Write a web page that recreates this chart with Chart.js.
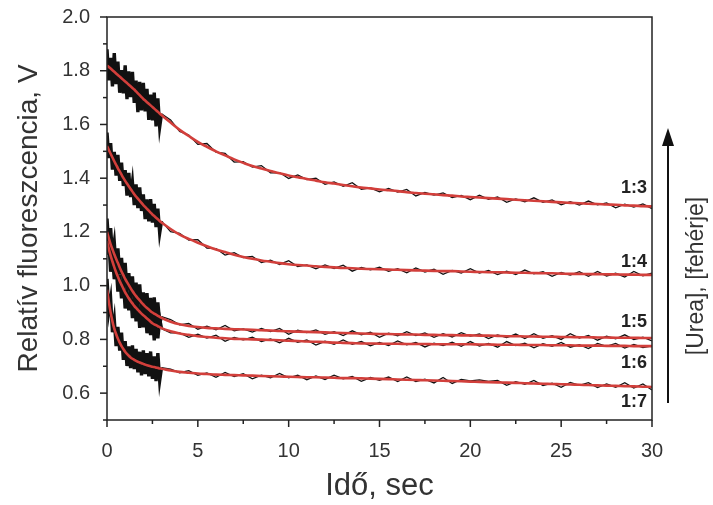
<!DOCTYPE html>
<html>
<head>
<meta charset="utf-8">
<script src="https://cdn.jsdelivr.net/npm/chart.js@4.4.1/dist/chart.umd.min.js"></script>
<style>
html,body{margin:0;padding:0;background:#fff;}
#wrap{width:713px;height:505px;}
</style>
</head>
<body>
<div id="wrap"><canvas id="c" width="713" height="505"></canvas></div>
<script>
// ---- time bases (s) ----
const denseTimes = [0,0.1,0.2,0.3,0.4,0.5,0.6,0.7,0.8,0.9,1.0,1.1,1.2,1.3,1.4,1.5,1.6,1.7,1.8,1.9,2.0,2.1,2.2,2.3,2.4,2.5,2.6,2.7,2.8,2.9,3.0];
const sparseTimes = [3.5,4,4.5,5,5.5,6,6.5,7,7.5,8,8.5,9,9.5,10,10.5,11,11.5,12,12.5,13,13.5,14,14.5,15,15.5,16,16.5,17,17.5,18,18.5,19,19.5,20,20.5,21,21.5,22,22.5,23,23.5,24,24.5,25,25.5,26,26.5,27,27.5,28,28.5,29,29.5,30];

// ---- series names ----
const seriesNames = ['1:3','1:4','1:5','1:6','1:7'];

// ---- measured traces (V) ----
const meas13 = [1.88,1.764,1.848,1.742,1.866,1.75,1.834,1.718,1.802,1.716,1.82,1.694,1.798,1.702,1.796,1.68,1.763,1.646,1.759,1.652,1.755,1.649,1.733,1.617,1.711,1.615,1.719,1.593,1.697,1.591,1.64,
 1.617,1.574,1.561,1.526,1.529,1.497,1.492,1.46,1.462,1.441,1.447,1.42,1.421,1.399,1.412,1.395,1.40,1.377,1.386,1.37,1.383,1.359,1.364,1.349,1.362,1.348,1.358,1.334,1.347,1.337,1.345,1.328,1.336,1.32,1.337,1.321,1.33,1.31,1.323,1.312,1.327,1.31,1.319,1.301,1.313,1.30,1.315,1.301,1.308,1.29,1.303,1.293,1.304,1.287];
const meas14 = [1.57,1.475,1.531,1.432,1.498,1.41,1.487,1.39,1.458,1.371,1.43,1.335,1.42,1.33,1.385,1.30,1.377,1.289,1.366,1.278,1.34,1.248,1.321,1.239,1.322,1.235,1.304,1.218,1.287,1.196,1.24,
 1.201,1.195,1.17,1.171,1.14,1.138,1.114,1.123,1.105,1.109,1.086,1.095,1.079,1.093,1.071,1.077,1.063,1.077,1.064,1.076,1.054,1.068,1.059,1.069,1.053,1.063,1.048,1.066,1.051,1.061,1.042,1.057,1.047,1.063,1.047,1.057,1.041,1.054,1.041,1.058,1.044,1.052,1.035,1.049,1.039,1.052,1.035,1.053,1.036,1.046,1.032,1.053,1.037,1.047];
const meas15 = [1.25,1.146,1.214,1.115,1.162,1.065,1.139,1.043,1.103,1.009,1.085,0.983,1.047,0.966,1.035,0.935,1.011,0.933,1.005,0.907,0.975,0.893,0.972,0.886,0.955,0.865,0.956,0.862,0.938,0.859,0.885,
 0.874,0.854,0.859,0.838,0.849,0.836,0.852,0.832,0.839,0.827,0.841,0.829,0.841,0.819,0.834,0.825,0.835,0.819,0.829,0.814,0.832,0.817,0.827,0.808,0.823,0.813,0.829,0.814,0.824,0.808,0.821,0.809,0.825,0.812,0.82,0.803,0.817,0.807,0.82,0.803,0.821,0.804,0.814,0.80,0.821,0.805,0.815,0.797,0.812,0.802,0.817,0.799,0.808,0.794];
const meas16 = [1.115,1.167,1.052,1.11,1.024,1.08,0.978,1.042,0.953,1.019,0.915,0.984,0.908,0.973,0.879,0.95,0.867,0.94,0.843,0.916,0.845,0.914,0.823,0.897,0.816,0.89,0.796,0.873,0.804,0.876,0.84,
 0.824,0.824,0.808,0.819,0.805,0.816,0.793,0.807,0.798,0.808,0.792,0.802,0.787,0.804,0.789,0.798,0.779,0.793,0.782,0.798,0.782,0.792,0.776,0.789,0.777,0.794,0.78,0.789,0.772,0.786,0.777,0.79,0.774,0.792,0.775,0.785,0.771,0.792,0.777,0.786,0.769,0.784,0.774,0.789,0.771,0.78,0.766,0.785,0.774,0.785,0.768,0.781,0.77,0.776];
const meas17 = [1.025,0.905,0.95,0.827,0.875,0.775,0.847,0.758,0.825,0.724,0.794,0.701,0.774,0.693,0.778,0.689,0.765,0.677,0.754,0.666,0.759,0.671,0.749,0.662,0.755,0.653,0.737,0.645,0.749,0.647,0.695,
 0.689,0.676,0.684,0.666,0.675,0.659,0.677,0.662,0.672,0.653,0.667,0.657,0.673,0.657,0.667,0.65,0.664,0.651,0.667,0.653,0.662,0.644,0.658,0.648,0.66,0.643,0.66,0.643,0.652,0.638,0.658,0.636,0.651,0.646,0.649,0.644,0.647,0.629,0.643,0.633,0.647,0.628,0.637,0.622,0.64,0.629,0.639,0.621,0.634,0.622,0.639,0.619,0.634,0.612];

// ---- fitted curves (V) ----
const fit13 = [1.82,1.814,1.808,1.802,1.796,1.79,1.784,1.778,1.772,1.766,1.76,1.754,1.748,1.742,1.736,1.73,1.723,1.716,1.709,1.702,1.695,1.689,1.683,1.677,1.671,1.665,1.659,1.653,1.647,1.641,1.635,
 1.607,1.58,1.557,1.535,1.517,1.50,1.485,1.47,1.457,1.445,1.436,1.427,1.418,1.41,1.404,1.397,1.391,1.385,1.38,1.375,1.37,1.365,1.362,1.358,1.355,1.352,1.348,1.345,1.342,1.34,1.337,1.335,1.332,1.33,1.328,1.326,1.324,1.322,1.32,1.318,1.316,1.314,1.312,1.31,1.308,1.307,1.305,1.304,1.302,1.301,1.299,1.298,1.296,1.295];
const fit14 = [1.52,1.505,1.491,1.477,1.463,1.45,1.437,1.425,1.413,1.401,1.39,1.38,1.37,1.36,1.35,1.34,1.332,1.324,1.316,1.308,1.30,1.293,1.286,1.279,1.272,1.265,1.259,1.253,1.247,1.241,1.235,
 1.211,1.19,1.174,1.16,1.147,1.135,1.125,1.115,1.107,1.10,1.094,1.089,1.084,1.08,1.077,1.075,1.072,1.07,1.068,1.066,1.065,1.063,1.062,1.061,1.06,1.059,1.058,1.057,1.056,1.055,1.054,1.054,1.053,1.052,1.051,1.05,1.05,1.049,1.048,1.048,1.047,1.046,1.046,1.045,1.044,1.044,1.043,1.043,1.042,1.042,1.041,1.041,1.04,1.04];
const fit15 = [1.20,1.176,1.154,1.135,1.117,1.10,1.084,1.068,1.053,1.039,1.025,1.013,1.002,0.991,0.98,0.97,0.961,0.953,0.945,0.937,0.93,0.923,0.917,0.911,0.905,0.90,0.896,0.892,0.888,0.884,0.88,
 0.866,0.856,0.85,0.846,0.843,0.841,0.839,0.838,0.837,0.836,0.834,0.833,0.831,0.83,0.829,0.828,0.827,0.826,0.825,0.824,0.823,0.822,0.821,0.82,0.82,0.819,0.818,0.818,0.817,0.817,0.816,0.816,0.815,0.815,0.814,0.814,0.813,0.812,0.812,0.811,0.811,0.81,0.81,0.809,0.809,0.808,0.808,0.807,0.807,0.806,0.806,0.806,0.805,0.805];
const fit16 = [1.165,1.137,1.112,1.09,1.069,1.05,1.033,1.017,1.003,0.989,0.975,0.964,0.953,0.943,0.934,0.925,0.917,0.91,0.903,0.896,0.89,0.884,0.878,0.872,0.866,0.86,0.856,0.853,0.849,0.846,0.842,
 0.83,0.822,0.817,0.812,0.809,0.806,0.804,0.802,0.801,0.80,0.799,0.798,0.797,0.795,0.794,0.792,0.791,0.79,0.788,0.787,0.786,0.785,0.785,0.784,0.784,0.784,0.783,0.783,0.783,0.782,0.782,0.782,0.782,0.782,0.781,0.781,0.78,0.78,0.78,0.779,0.779,0.779,0.778,0.778,0.778,0.777,0.777,0.777,0.776,0.776,0.776,0.775,0.775,0.775];
const fit17 = [0.985,0.94,0.90,0.867,0.84,0.82,0.802,0.788,0.775,0.764,0.754,0.746,0.739,0.733,0.728,0.724,0.72,0.717,0.714,0.711,0.709,0.706,0.704,0.702,0.70,0.698,0.697,0.695,0.694,0.692,0.691,
 0.684,0.679,0.676,0.673,0.671,0.669,0.668,0.667,0.666,0.665,0.664,0.663,0.662,0.661,0.66,0.659,0.659,0.658,0.657,0.656,0.656,0.655,0.654,0.653,0.652,0.651,0.65,0.649,0.648,0.647,0.646,0.645,0.644,0.643,0.642,0.641,0.64,0.639,0.638,0.637,0.636,0.635,0.634,0.633,0.632,0.631,0.63,0.629,0.628,0.627,0.626,0.625,0.624,0.623];

// ---- tick values ----
const xTicks = [0,5,10,15,20,25,30];
const xMinorTicks = [2.5,7.5,12.5,17.5,22.5,27.5];
const yTicks = [0.6,0.8,1.0,1.2,1.4,1.6,1.8,2.0];
const yMinorTicks = [0.5,0.7,0.9,1.1,1.3,1.5,1.7,1.9];
// value at which each ratio label sits
const labelLevels = [1.363,1.088,0.864,0.711,0.566];

const allTimes = denseTimes.concat(sparseTimes);
const pts = arr => arr.map((v,i) => ({x: allTimes[i], y: v}));

const measured = [meas13, meas14, meas15, meas16, meas17];
const fits = [fit13, fit14, fit15, fit16, fit17];

const FONT = "'Liberation Sans', Arial, Helvetica, sans-serif";
const TXT = '#333';

const datasets = [];
fits.forEach((f,i) => datasets.push({
  label: 'fit ' + seriesNames[i], data: pts(f), showLine: true, pointRadius: 0,
  borderColor: '#d23f3b', borderWidth: 2.6, order: 0, cubicInterpolationMode: 'monotone'
}));
measured.forEach((m,i) => datasets.push({
  label: seriesNames[i], data: pts(m), showLine: true, pointRadius: 0,
  borderColor: '#111', borderWidth: 1.3, order: 1, tension: 0,
  segment: { borderWidth: c => (c.p1.parsed.x <= 3.001 ? 3.4 : 1.3) }
}));

const decor = {
  id: 'decor',
  afterDraw(chart) {
    const {ctx, chartArea: a, scales: {x, y}} = chart;
    ctx.save();
    ctx.strokeStyle = '#222';
    ctx.lineWidth = 1.5;
    ctx.strokeRect(a.left, a.top, a.right - a.left, a.bottom - a.top);
    const seg = (x1, y1, x2, y2) => { ctx.beginPath(); ctx.moveTo(x1, y1); ctx.lineTo(x2, y2); ctx.stroke(); };
    xTicks.forEach(v => { const p = x.getPixelForValue(v); seg(p, a.bottom, p, a.bottom + 7); });
    xMinorTicks.forEach(v => { const p = x.getPixelForValue(v); seg(p, a.bottom, p, a.bottom + 4); });
    yTicks.forEach(v => { const p = y.getPixelForValue(v); seg(a.left - 7, p, a.left, p); });
    yMinorTicks.forEach(v => { const p = y.getPixelForValue(v); seg(a.left - 4, p, a.left, p); });
    // ratio labels
    ctx.fillStyle = '#222';
    ctx.font = 'bold 18px ' + FONT;
    ctx.textAlign = 'right';
    ctx.textBaseline = 'middle';
    seriesNames.forEach((n, i) => ctx.fillText(n, a.right - 5, y.getPixelForValue(labelLevels[i])));
    // arrow
    const ax = a.right + 16;
    ctx.strokeStyle = '#111';
    ctx.lineWidth = 2;
    seg(ax, a.bottom - 17, ax, a.top + 126);
    ctx.fillStyle = '#111';
    ctx.beginPath();
    ctx.moveTo(ax, a.top + 111);
    ctx.lineTo(ax - 6, a.top + 129);
    ctx.lineTo(ax + 6, a.top + 129);
    ctx.closePath();
    ctx.fill();
    // side caption
    ctx.save();
    ctx.translate(a.right + 45, a.top + 259);
    ctx.rotate(-Math.PI / 2);
    ctx.fillStyle = TXT;
    ctx.font = '23px ' + FONT;
    ctx.textAlign = 'center';
    ctx.textBaseline = 'middle';
    ctx.fillText('[Urea], [fehérje]', 0, 0);
    ctx.restore();
    ctx.restore();
  }
};

new Chart(document.getElementById('c'), {
  type: 'scatter',
  data: { datasets },
  options: {
    responsive: false,
    animation: false,
    devicePixelRatio: 1,
    layout: { padding: { top: 17, right: 61, left: 0, bottom: 0 } },
    plugins: { legend: { display: false }, tooltip: { enabled: false } },
    scales: {
      x: {
        type: 'linear', min: 0, max: 30,
        afterBuildTicks: s => { s.ticks = xTicks.map(v => ({ value: v })); },
        afterFit: s => { s.height = 85; s.paddingLeft = 0; s.paddingRight = 0; },
        grid: { display: false, drawTicks: false },
        border: { display: false },
        ticks: { color: TXT, font: { family: FONT, size: 20 }, padding: 19, maxRotation: 0, callback: v => String(v) },
        title: { display: true, text: 'Idő, sec', color: TXT, font: { family: FONT, size: 31 }, padding: { top: 0, bottom: 0 } }
      },
      y: {
        type: 'linear', min: 0.5, max: 2.0,
        afterBuildTicks: s => { s.ticks = yTicks.map(v => ({ value: v })); },
        afterFit: s => { s.width = 107; s.paddingTop = 0; s.paddingBottom = 0; },
        grid: { display: false, drawTicks: false },
        border: { display: false },
        ticks: { color: TXT, font: { family: FONT, size: 20 }, padding: 17, callback: v => Number(v).toFixed(1) },
        title: { display: true, text: 'Relatív fluoreszcencia, V', color: TXT, font: { family: FONT, size: 28 }, padding: { top: 12, bottom: 0 } }
      }
    }
  },
  plugins: [decor]
});
</script>
</body>
</html>
